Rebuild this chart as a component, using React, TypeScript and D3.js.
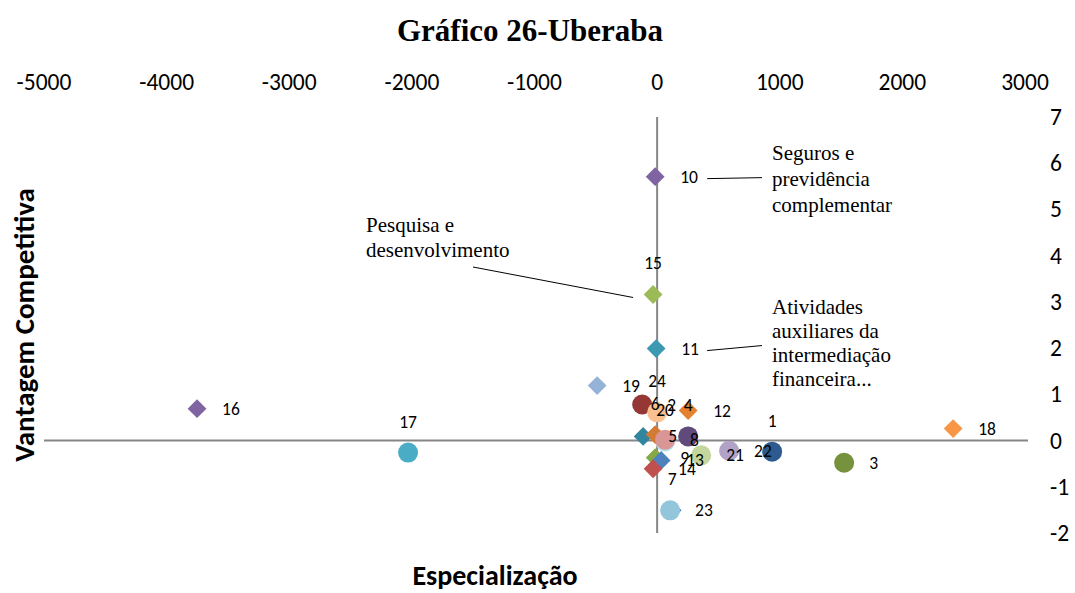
import React from "react";
import * as d3 from "d3";

// ---- data ----
const ids = ["1","2","3","4","5","6","7","8","9","10","11","12","13","14","15","16","17","18","19","20","21","22","23","24"];
const especializacao = [938, -122, 1525, 253, -114, -16, 122, 65, -16, -16, -8, 253, 33, -33, -33, -3752, -2031, 2414, -489, 65, 359, 587, 106, 0];
const vantagem = [-0.24, 0.78, -0.48, 0.09, 0.09, 0.13, -1.51, 0.02, -0.37, 5.71, 1.99, 0.65, -0.43, -0.61, 3.16, 0.69, -0.26, 0.26, 1.19, -0.02, -0.32, -0.22, -1.51, 0.61];
const markerShape = ["circle","circle","circle","circle","diamond","diamond","diamond","circle","diamond","diamond","diamond","diamond","diamond","diamond","diamond","diamond","circle","diamond","diamond","circle","circle","circle","circle","circle"];
const markerColor = ["#2E5B8F","#953735","#76923C","#604A7B","#31859C","#D27B35","#3F72B5","#D99694","#86A845","#8064A2","#3B9AB2","#E3812F","#4F81BD","#C0504D","#9BBB59","#8064A2","#4BACC6","#F79646","#95B3D7","#B7DEE8","#C3D69B","#B3A2C7","#93C6DA","#FAC090"];
const labelsAbove = ["1","4","6","7","15","17","20","24"];
const hiddenFirst = ["20"];

const xTicks = [-5000, -4000, -3000, -2000, -1000, 0, 1000, 2000, 3000];
const yTicks = [7, 6, 5, 4, 3, 2, 1, 0, -1, -2];

const title = "Gráfico 26-Uberaba";
const xTitle = "Especialização";
const yTitle = "Vantagem Competitiva";

const calloutSeguros = ["Seguros e", "previdência", "complementar"];
const calloutPesquisa = ["Pesquisa e", "desenvolvimento"];
const calloutAtividades = ["Atividades", "auxiliares da", "intermediação", "financeira..."];

const W = 1075;
const H = 593;

export default function App() {
  React.useEffect(() => {
    document.body.style.margin = "0";
  }, []);

  const x = d3.scaleLinear().domain([-5000, 3000]).range([44, 1025]);
  const y = d3.scaleLinear().domain([-2, 7]).range([533, 117]);

  const pts = ids.map((id, i) => ({
    id,
    x: especializacao[i],
    y: vantagem[i],
    shape: markerShape[i],
    color: markerColor[i],
  }));
  const ordered = [
    ...pts.filter((p) => hiddenFirst.includes(p.id)),
    ...pts.filter((p) => !hiddenFirst.includes(p.id)),
  ];

  const diamond = d3.symbol().type(d3.symbolDiamond2).size(225);
  const sans = "Carlito, Lato, 'Liberation Sans', sans-serif";
  const serif = "'Liberation Serif', 'Times New Roman', serif";
  const axisColor = "#868686";

  const p10 = pts[9];
  const p11 = pts[10];
  const p15 = pts[14];

  return (
    <svg width={W} height={H} style={{ display: "block", background: "#fff" }}>
      {/* title */}
      <text x={530} y={41} textAnchor="middle" fontFamily={serif} fontWeight="bold" fontSize={31} fill="#000">
        {title}
      </text>

      {/* x ticks labels (top) */}
      {xTicks.map((t) => (
        <text key={t} x={x(t)} y={90} textAnchor="middle" fontFamily={sans} fontSize={23.5} fill="#000">
          {t}
        </text>
      ))}

      {/* y tick labels (right) */}
      {yTicks.map((t) => (
        <text key={t} x={1050} y={y(t) + 8} textAnchor="start" fontFamily={sans} fontSize={23.5} fill="#000">
          {t}
        </text>
      ))}

      {/* axes */}
      <line x1={x(-5000)} x2={x(3000) + 3} y1={y(0)} y2={y(0)} stroke={axisColor} strokeWidth={2} />
      <line x1={x(0)} x2={x(0)} y1={y(7)} y2={y(-2)} stroke={axisColor} strokeWidth={2} />

      {/* markers */}
      {ordered.map((p) =>
        p.shape === "circle" ? (
          <circle key={p.id} cx={x(p.x)} cy={y(p.y)} r={10} fill={p.color} />
        ) : (
          <path key={p.id} d={diamond() as string} transform={`translate(${x(p.x)},${y(p.y)})`} fill={p.color} />
        )
      )}

      {/* data labels */}
      {pts.map((p) =>
        labelsAbove.includes(p.id) ? (
          <text key={"l" + p.id} x={x(p.x)} y={y(p.y) - 25} textAnchor="middle" fontFamily={sans} fontSize={17.5} fill="#000">
            {p.id}
          </text>
        ) : (
          <text key={"l" + p.id} x={x(p.x) + 25} y={y(p.y) + 6} textAnchor="start" fontFamily={sans} fontSize={17.5} fill="#000">
            {p.id}
          </text>
        )
      )}

      {/* callouts */}
      <line x1={x(p10.x) + 52} y1={y(p10.y) + 2} x2={762} y2={y(p10.y) + 1} stroke="#000" strokeWidth={1} />
      {calloutSeguros.map((s, i) => (
        <text key={s} x={772} y={160 + i * 26} fontFamily={serif} fontSize={21} fill="#000">
          {s}
        </text>
      ))}

      <line x1={473} y1={267} x2={x(p15.x) - 20} y2={y(p15.y) + 3} stroke="#000" strokeWidth={1} />
      {calloutPesquisa.map((s, i) => (
        <text key={s} x={366} y={232 + i * 25} fontFamily={serif} fontSize={21} fill="#000">
          {s}
        </text>
      ))}

      <line x1={x(p11.x) + 51} y1={y(p11.y) + 2} x2={762} y2={y(p11.y) - 3} stroke="#000" strokeWidth={1} />
      {calloutAtividades.map((s, i) => (
        <text key={s} x={772} y={314 + i * 24} fontFamily={serif} fontSize={21} fill="#000">
          {s}
        </text>
      ))}

      {/* axis titles */}
      <text x={495} y={585} textAnchor="middle" fontFamily={sans} fontWeight="bold" fontSize={28} fill="#000">
        {xTitle}
      </text>
      <text
        transform={`translate(34,325) rotate(-90)`}
        textAnchor="middle"
        fontFamily={sans}
        fontWeight="bold"
        fontSize={29}
        fill="#000"
      >
        {yTitle}
      </text>
    </svg>
  );
}
